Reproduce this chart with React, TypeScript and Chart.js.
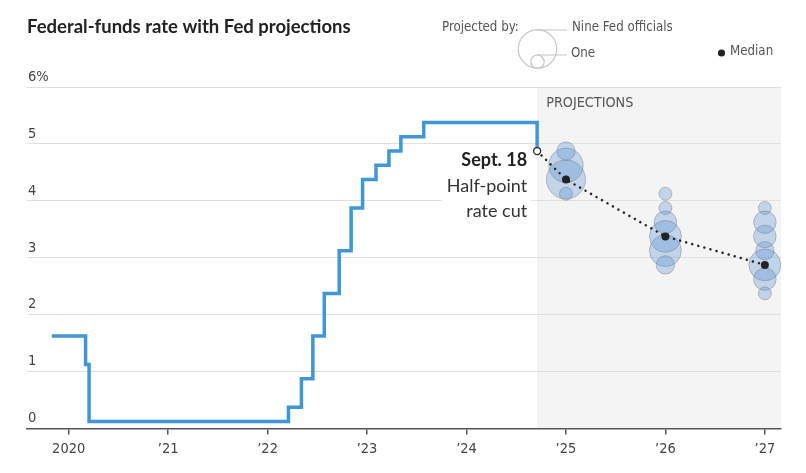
import React, { useEffect, useRef } from 'react';
import { Chart, registerables } from 'chart.js';

Chart.register(...registerables);

// ---- Data ----
// Effective target-range midpoint, step dates as decimal years
const rateDates = [2019.83, 2020.17, 2020.205, 2022.21, 2022.34, 2022.455, 2022.57, 2022.72, 2022.84, 2022.955, 2023.09, 2023.22, 2023.34, 2023.57, 2024.71];
const rateValues = [1.625, 1.125, 0.125, 0.375, 0.875, 1.625, 2.375, 3.125, 3.875, 4.375, 4.625, 4.875, 5.125, 5.375, 4.875];

// Fed projections (dot plot), placed at year end
const projX = [2025, 2026, 2027];
const projLevels2024 = [4.875, 4.625, 4.375, 4.125];
const projCounts2024 = [2, 7, 9, 1];
const projLevels2025 = [4.125, 3.875, 3.625, 3.375, 3.125, 2.875];
const projCounts2025 = [1, 1, 3, 6, 6, 2];
const projLevels2026 = [3.875, 3.625, 3.375, 3.125, 2.875, 2.625, 2.375];
const projCounts2026 = [1, 3, 3, 2, 6, 3, 1];

const medianX = [2024.71, 2025, 2026, 2027];
const medianY = [4.875, 4.375, 3.375, 2.875];

const projectionStart = 2024.71;

const yTicks = [0, 1, 2, 3, 4, 5, 6];
const xTicks = [2020, 2021, 2022, 2023, 2024, 2025, 2026, 2027];
const xTickLabels = ['2020', '\u201921', '\u201922', '\u201923', '\u201924', '\u201925', '\u201926', '\u201927'];

const FONT_N = '"Liberation Sans Narrow", "DejaVu Sans Condensed", Roboto, sans-serif';
const FONT_T = 'Lato, "Noto Sans", sans-serif';

const bubbleScale = 6.5; // px per sqrt(count)

const levels = [projLevels2024, projLevels2025, projLevels2026];
const counts = [projCounts2024, projCounts2025, projCounts2026];

export default function App() {
  const ref = useRef<HTMLCanvasElement>(null);

  useEffect(() => {
    const bubbleData = projX.flatMap((x, i) =>
      levels[i].map((y, j) => ({ x, y, r: bubbleScale * Math.sqrt(counts[i][j]) }))
    );

    const decor = {
      id: 'decor',
      beforeDraw(chart: any) {
        const { ctx, chartArea, scales } = chart;
        const x0 = scales.x.getPixelForValue(projectionStart);
        ctx.save();
        ctx.fillStyle = '#f4f4f4';
        ctx.fillRect(x0, chartArea.top, chartArea.right - x0, chartArea.bottom - chartArea.top);
        ctx.restore();
      },
      afterDraw(chart: any) {
        const { ctx, chartArea, scales } = chart;
        const x0 = scales.x.getPixelForValue(projectionStart);
        ctx.save();
        // Title
        ctx.fillStyle = '#222';
        ctx.font = `bold 18.5px ${FONT_T}`;
        ctx.textAlign = 'left';
        ctx.textBaseline = 'alphabetic';
        ctx.fillText('Federal-funds rate with Fed projections', 27, 33);

        // PROJECTIONS label
        ctx.fillStyle = '#555';
        ctx.font = `14.3px ${FONT_N}`;
        ctx.fillText('PROJECTIONS', x0 + 9, chartArea.top + 20);

        // Annotation
        const px = scales.x.getPixelForValue(medianX[0]);
        const py = scales.y.getPixelForValue(medianY[0]);
        ctx.fillStyle = '#fff';
        ctx.fillRect(px - 95, py - 3, 89, 74);
        ctx.textAlign = 'right';
        ctx.fillStyle = '#222';
        ctx.font = `bold 18px ${FONT_T}`;
        ctx.fillText('Sept. 18', px - 10, py + 15);
        ctx.fillStyle = '#333';
        ctx.font = `18px ${FONT_T}`;
        ctx.fillText('Half-point', px - 10, py + 41);
        ctx.fillText('rate cut', px - 10, py + 66);

        // Legend
        ctx.textAlign = 'left';
        ctx.textBaseline = 'middle';
        ctx.fillStyle = '#555';
        ctx.font = `13.2px ${FONT_N}`;
        ctx.fillText('Projected by:', 442, 28);
        ctx.strokeStyle = '#c4c4c4';
        ctx.lineWidth = 1.2;
        ctx.beginPath();
        ctx.arc(537.5, 49, 19.2, 0, Math.PI * 2);
        ctx.stroke();
        ctx.beginPath();
        ctx.arc(537.5, 61.7, 6.7, 0, Math.PI * 2);
        ctx.stroke();
        ctx.beginPath();
        ctx.moveTo(537, 30);
        ctx.lineTo(567, 30);
        ctx.moveTo(537, 55);
        ctx.lineTo(567, 55);
        ctx.stroke();
        ctx.fillText('Nine Fed officials', 572, 28);
        ctx.fillText('One', 571, 54);
        ctx.fillStyle = '#222';
        ctx.beginPath();
        ctx.arc(721.5, 53, 3.6, 0, Math.PI * 2);
        ctx.fill();
        ctx.fillStyle = '#555';
        ctx.fillText('Median', 730, 52);
        ctx.restore();
      },
    };

    const chart = new Chart(ref.current as HTMLCanvasElement, {
      type: 'scatter',
      data: {
        datasets: [
          {
            type: 'line',
            data: medianX.map((x, i) => ({ x, y: medianY[i] })),
            borderColor: '#222',
            borderWidth: 2.5,
            borderDash: [0.01, 6.3],
            borderCapStyle: 'round',
            pointRadius: [3.5, 4, 4, 4],
            pointBackgroundColor: ['#fff', '#222', '#222', '#222'],
            pointBorderColor: '#222',
            pointBorderWidth: [1.3, 0, 0, 0],
            fill: false,
            tension: 0,
          } as any,
          {
            type: 'bubble',
            data: bubbleData,
            backgroundColor: 'rgba(80,140,210,0.3)',
            borderColor: 'rgba(110,110,110,0.4)',
            borderWidth: 1,
          } as any,
          {
            type: 'line',
            data: rateDates.map((x, i) => ({ x, y: rateValues[i] })),
            stepped: 'before',
            borderColor: '#3f97d8',
            borderWidth: 3.5,
            borderJoinStyle: 'miter',
            pointRadius: 0,
            fill: false,
          } as any,
        ],
      },
      options: {
        animation: false,
        responsive: false,
        events: [],
        layout: { padding: { left: 25, right: 25, top: 87, bottom: 10 } },
        plugins: { legend: { display: false }, tooltip: { enabled: false } },
        scales: {
          x: {
            type: 'linear',
            min: 2019.581,
            max: 2027.162,
            afterBuildTicks: (s: any) => {
              s.ticks = xTicks.map((v) => ({ value: v }));
            },
            ticks: {
              autoSkip: false,
              maxRotation: 0,
              padding: 5.5,
              color: '#444',
              font: { family: FONT_N, size: 14.5 },
              callback: (v: any) => xTickLabels[xTicks.indexOf(Number(v))] ?? '',
            },
            grid: { drawOnChartArea: false, drawTicks: true, tickLength: 6, color: '#555', lineWidth: 1.5 },
            border: { display: true, color: '#555', width: 1.5 },
          },
          y: {
            type: 'linear',
            min: 0,
            max: 6,
            afterBuildTicks: (s: any) => {
              s.ticks = yTicks.map((v) => ({ value: v }));
            },
            ticks: {
              mirror: true,
              padding: 1,
              labelOffset: -10,
              color: '#444',
              font: { family: FONT_N, size: 14.5 },
              callback: (v: any) => (Number(v) === 6 ? '6%' : String(v)),
            },
            grid: {
              drawTicks: false,
              lineWidth: 1,
              color: (c: any) => (c.tick && c.tick.value === 0 ? 'rgba(0,0,0,0)' : '#e0e0e0'),
            },
            border: { display: false },
          },
        },
      },
      plugins: [decor],
    } as any);
    return () => chart.destroy();
  }, []);

  return (
    <div style={{ position: 'absolute', left: 0, top: 0, width: 806, height: 473, background: '#fff' }}>
      <canvas ref={ref} width={806} height={473} style={{ display: 'block' }} />
    </div>
  );
}
